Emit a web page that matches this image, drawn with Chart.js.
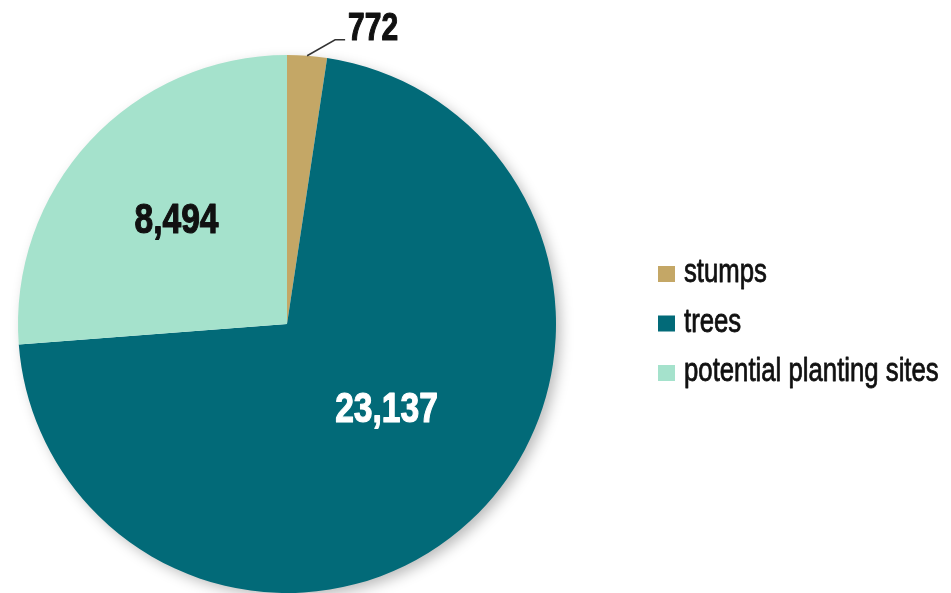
<!DOCTYPE html>
<html>
<head>
<meta charset="utf-8">
<script src="https://cdn.jsdelivr.net/npm/chart.js@4"></script>
<style>
  html, body { margin: 0; padding: 0; background: #fff; }
  #wrap { width: 951px; height: 593px; position: relative; }
</style>
</head>
<body>
<div id="wrap"><canvas id="pieChart"></canvas></div>
<script>
const categorias = ['stumps', 'trees', 'potential planting sites'];
const valores = [772, 23137, 8494];
const rotulos = ['772', '23,137', '8,494'];
const cores = [
  '#c4a766', // stumps
  '#026a78', // trees
  '#a5e2cc'  // potential planting sites
];
const coresRotulo = ['#111111', '#ffffff', '#111111'];

// texto estreito: a fonte original é condensada, então comprime na horizontal
function textoEstreito(ctx, texto, x, y, escala, align, traco) {
  ctx.save();
  ctx.translate(x, y);
  ctx.scale(escala, 1);
  ctx.textAlign = align;
  ctx.fillText(texto, 0, 0);
  if (traco) {
    ctx.strokeStyle = ctx.fillStyle;
    ctx.lineWidth = traco;
    ctx.lineJoin = 'round';
    ctx.strokeText(texto, 0, 0);
  }
  ctx.restore();
}

// sombra suave atrás da pizza
const sombraPlugin = {
  id: 'sombra',
  beforeDatasetsDraw(chart) {
    const arc = chart.getDatasetMeta(0).data[0];
    if (!arc) return;
    const ctx = chart.ctx;
    ctx.save();
    ctx.shadowColor = 'rgba(0,0,0,0.28)';
    ctx.shadowBlur = 14;
    ctx.shadowOffsetX = 5;
    ctx.shadowOffsetY = 5;
    ctx.fillStyle = '#ffffff';
    ctx.beginPath();
    ctx.arc(arc.x, arc.y, arc.outerRadius - 1, 0, Math.PI * 2);
    ctx.fill();
    ctx.restore();
  }
};

// rótulos dos valores dentro/fora das fatias
const rotulosPlugin = {
  id: 'rotulos',
  afterDatasetsDraw(chart) {
    const ctx = chart.ctx;
    const meta = chart.getDatasetMeta(0);
    const fracoes = [null, 0.5, 0.56];
    ctx.save();
    meta.data.forEach((arc, i) => {
      const mid = (arc.startAngle + arc.endAngle) / 2;
      ctx.fillStyle = coresRotulo[i];
      if (fracoes[i] === null) {
        // fatia pequena: linha guia para fora
        const x0 = arc.x + Math.cos(mid) * arc.outerRadius;
        const y0 = arc.y + Math.sin(mid) * arc.outerRadius;
        ctx.strokeStyle = '#333';
        ctx.lineWidth = 1.5;
        ctx.beginPath();
        ctx.moveTo(x0, y0);
        ctx.lineTo(x0 + 28, y0 - 16);
        ctx.lineTo(x0 + 38, y0 - 16);
        ctx.stroke();
        ctx.font = 'bold 39px "Liberation Sans", Arial, sans-serif';
        ctx.textBaseline = 'alphabetic';
        textoEstreito(ctx, rotulos[i], x0 + 41, y0 - 16, 0.77, 'left', 1.2);
      } else {
        const r = arc.outerRadius * fracoes[i];
        const x = arc.x + Math.cos(mid) * r + (i === 1 ? 8 : 0);
        const y = arc.y + Math.sin(mid) * r - (i === 1 ? 12 : 0);
        ctx.font = 'bold 42px "Liberation Sans", Arial, sans-serif';
        ctx.textBaseline = 'middle';
        textoEstreito(ctx, rotulos[i], x, y, 0.8, 'center', 1.2);
      }
    });
    ctx.restore();
  }
};

// legenda à direita
const legendaPlugin = {
  id: 'legenda',
  afterDraw(chart) {
    const ctx = chart.ctx;
    const x = 658;
    const y0 = 274;
    const passo = 49.5;
    ctx.save();
    ctx.font = '33px "Liberation Sans", Arial, sans-serif';
    ctx.textBaseline = 'alphabetic';
    chart.data.labels.forEach((label, i) => {
      const y = y0 + i * passo;
      ctx.fillStyle = chart.data.datasets[0].backgroundColor[i];
      ctx.fillRect(x, y - 8, 17, 16);
      ctx.fillStyle = '#111111';
      textoEstreito(ctx, label, x + 26, y + 8, 0.78, 'left', 0.8);
    });
    ctx.restore();
  }
};

new Chart(document.getElementById('pieChart'), {
  type: 'pie',
  data: {
    labels: categorias,
    datasets: [{
      data: valores,
      backgroundColor: cores,
      borderWidth: 0,
      hoverOffset: 0
    }]
  },
  options: {
    responsive: true,
    maintainAspectRatio: false,
    animation: false,
    layout: {
      padding: { left: 18, top: 55, right: 395, bottom: 0 }
    },
    plugins: {
      legend: { display: false },
      tooltip: { enabled: false }
    }
  },
  plugins: [sombraPlugin, rotulosPlugin, legendaPlugin]
});
</script>
</body>
</html>
